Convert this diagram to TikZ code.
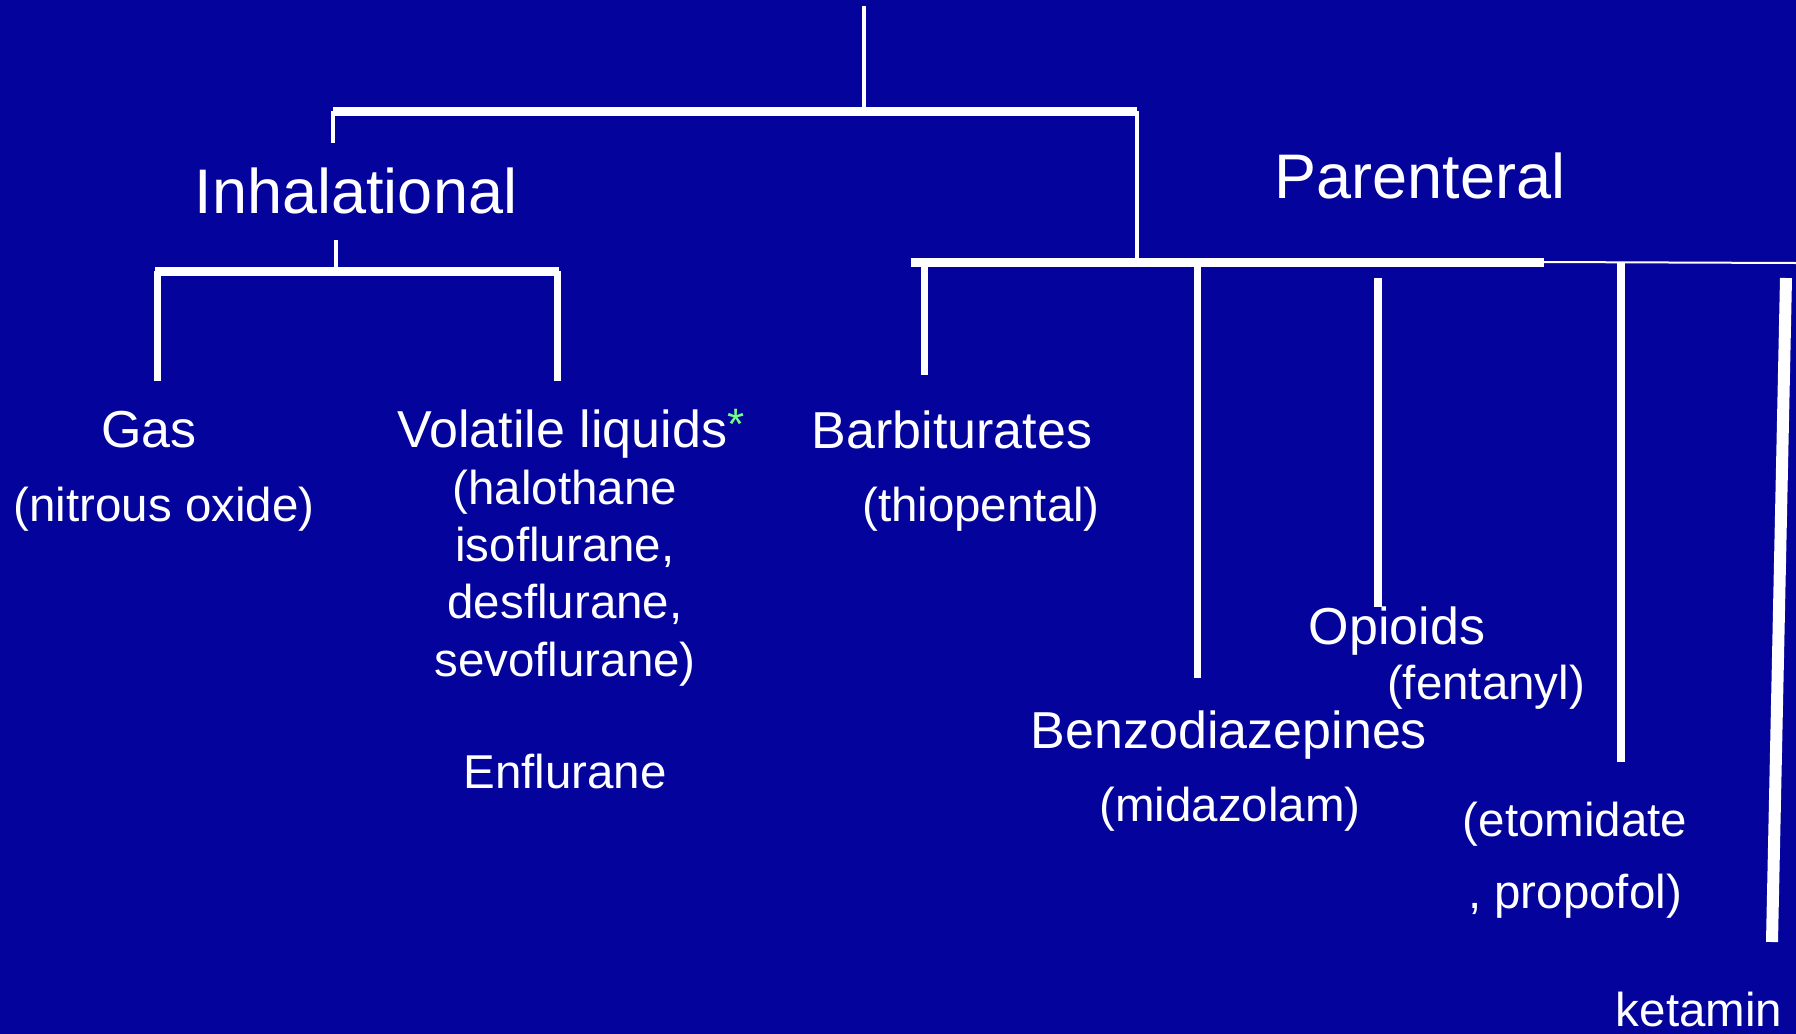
\documentclass[tikz,border=0pt]{standalone}
\usepackage{fontspec}
\setmainfont{Liberation Sans}
\usepackage{xcolor}
\usetikzlibrary{positioning}
\definecolor{slideblue}{RGB}{4,4,156}
\definecolor{stargreen}{RGB}{110,255,140}

\begin{document}
\begin{tikzpicture}[
    x=0.5pt, y=-0.5pt,
    route/.style={text=white, anchor=base, inner sep=0pt, font=\fontsize{31.5}{36}\selectfont},
    drugclass/.style={text=white, anchor=base, inner sep=0pt, font=\fontsize{26}{30}\selectfont},
    drugname/.style={text=white, anchor=base, inner sep=0pt, align=center, font=\fontsize{23.75}{28.6}\selectfont},
    fineline/.style={draw=white, line width=2pt},
    barline/.style={draw=white, line width=4.5pt},
    stemline/.style={draw=white, line width=3.5pt}
]

% Slide background
\path[use as bounding box, fill=slideblue] (0,0) rectangle (1796,1034);

% Route headings
\node[route] (inhal) at (356,213) {Inhalational};
\node[route] (parent) at (1420,198) {Parenteral};

% Inhalational agents
\node[drugclass] (gas) at (149,447) {Gas};
\node[drugname] (nitrous) at (164,521) {(nitrous oxide)};
\node[drugclass] (volatile) at (571,447) {Volatile liquids\textcolor{stargreen}{\fontsize{22}{22}\selectfont\raisebox{4pt}{*}}};
% base of a multi-line node sits on its last line
\node[drugname] (volalist) at (565,676) {(halothane\\isoflurane,\\desflurane,\\sevoflurane)};
\node[drugname] (enflu) at (565,788) {Enflurane};

% Parenteral agents
\node[drugclass] (barb) at (952,448) {Barbiturates};
\node[drugname] (thio) at (981,521) {(thiopental)};
\node[drugclass] (benzo) at (1229,748) {Benzodiazepines};
\node[drugname] (mida) at (1230,821) {(midazolam)};
\node[drugclass] (opio) at (1397,644) {Opioids};
\node[drugname] (fent) at (1486,699) {(fentanyl)};
\node[drugname] (etomi) at (1575,836) {(etomidate};
\node[drugname] (propo) at (1575,908) {, propofol)};
\node[drugname] (keta) at (1699,1026) {ketamin};

% Top split
\coordinate (root) at (864,6);
\coordinate (rootjoin) at (864,111);
\coordinate (inhaljoin) at (333,111);
\coordinate (parentjoin) at (1137,111);
\draw[fineline] (root) -- (rootjoin);
\draw[barline] (inhaljoin) -- (parentjoin);
\draw[fineline] (inhaljoin) -- (333,143);

% Inhalational split
\coordinate (inhalstem) at (336,240);
\coordinate (inhalbar) at (336,271);
\coordinate (gasjoin) at (157,271);
\coordinate (volajoin) at (557,271);
\draw[fineline] (inhalstem) -- (inhalbar);
\draw[barline] (155,271) -- (559,271);
\draw[stemline] (gasjoin) -- (157,381);
\draw[stemline] (volajoin) -- (557,381);

% Parenteral split
\coordinate (parentbar) at (1137,262);
\coordinate (pbarleft) at (911,262);
\coordinate (pbarright) at (1544,262);
\coordinate (pbarend) at (1796,263);
\draw[fineline] (parentjoin) -- (parentbar);
\draw[barline] (pbarleft) -- (pbarright);
\draw[draw=white, line width=1pt] (pbarright) -- (pbarend);
\foreach \n/\xa/\ya/\xb/\yb/\w in {barb/924/262/924/375/3.5, benzo/1197/262/1197/678/3.5,
    opio/1378/278/1378/607/4, etomi/1621/262/1621/762/4, keta/1786/278/1772/942/6} {
    \coordinate (\n top) at (\xa,\ya);
    \coordinate (\n end) at (\xb,\yb);
    \draw[draw=white, line width=\w pt] (\n top) -- (\n end);
}

\end{tikzpicture}
\end{document}
